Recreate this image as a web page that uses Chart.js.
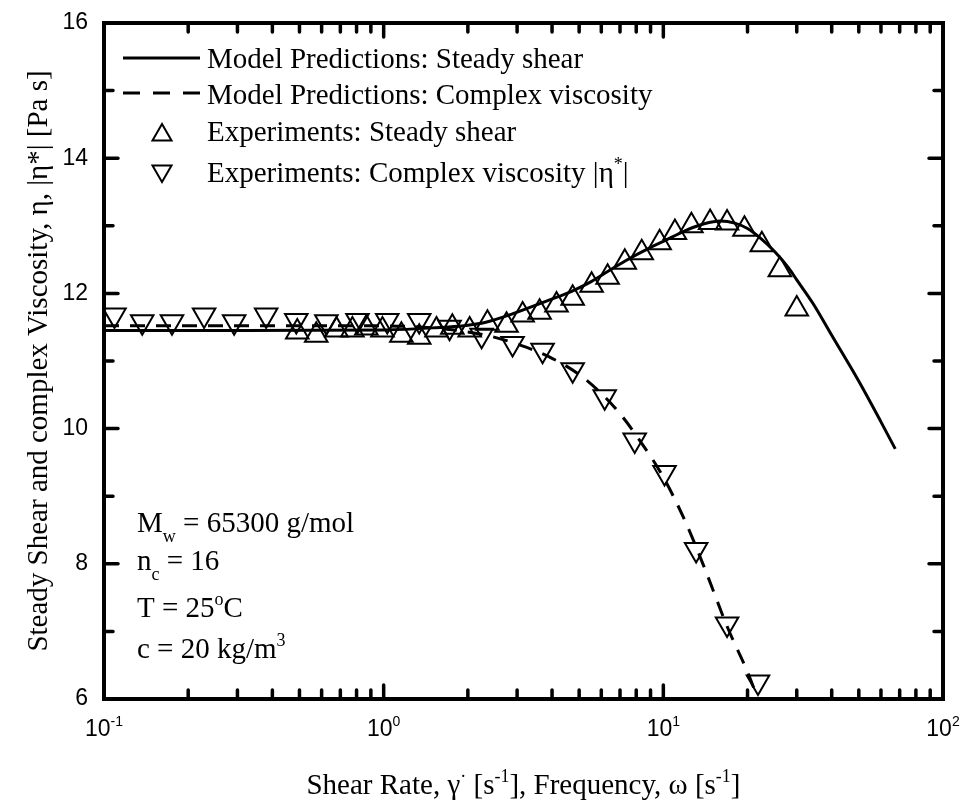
<!DOCTYPE html>
<html>
<head>
<meta charset="utf-8">
<title>Steady shear and complex viscosity</title>
<script src="https://cdn.jsdelivr.net/npm/chart.js@4.4.1/dist/chart.umd.min.js"></script>
<style>
  html, body { margin: 0; padding: 0; background: #fff; }
  #wrap { width: 965px; height: 805px; }
</style>
</head>
<body>
<div id="wrap"><canvas id="chart" width="965" height="805"></canvas></div>
<script>
// ---------------------------------------------------------
// data
// ---------------------------------------------------------
const modelShearX = [0.1, 0.3, 1, 1.5, 2, 2.3, 2.9, 3.9, 4.7, 5.5, 6.3, 7.3, 8.9, 10, 12, 14, 16, 18, 20, 22.5, 25, 28, 30, 34.3, 40, 50, 60, 67.5];
const modelShearY = [11.45, 11.45, 11.46, 11.49, 11.53, 11.57, 11.7, 11.9, 12.03, 12.17, 12.32, 12.48, 12.67, 12.77, 12.93, 13.03, 13.07, 13.04, 12.96, 12.8, 12.62, 12.38, 12.2, 11.85, 11.38, 10.7, 10.1, 9.7];

const modelComplexX = [0.1, 1, 1.5, 2, 2.5, 3, 4, 5, 6, 7, 8, 10, 12, 14, 17, 20, 22.5];
const modelComplexY = [11.52, 11.52, 11.49, 11.43, 11.35, 11.25, 11.04, 10.8, 10.52, 10.22, 9.9, 9.28, 8.62, 7.95, 7.05, 6.4, 5.85];

const expShearX = [0.491, 0.574, 0.678, 0.773, 0.867, 0.99, 1.157, 1.34, 1.545, 1.76, 2.03, 2.35, 2.75, 3.14, 3.61, 4.15, 4.74, 5.54, 6.32, 7.28, 8.37, 9.7, 11.0, 12.6, 14.7, 16.9, 19.5, 22.5, 26.1, 30.0];
const expShearY = [11.43, 11.38, 11.46, 11.46, 11.49, 11.46, 11.38, 11.35, 11.46, 11.5, 11.46, 11.56, 11.53, 11.68, 11.72, 11.83, 11.93, 12.12, 12.24, 12.46, 12.6, 12.75, 12.9, 13.0, 13.05, 13.04, 12.95, 12.72, 12.35, 11.77];

const expComplexX = [0.109, 0.137, 0.175, 0.228, 0.292, 0.38, 0.487, 0.624, 0.806, 1.03, 1.34, 1.72, 2.24, 2.89, 3.7, 4.74, 6.17, 7.9, 10.1, 13.1, 16.9, 21.8];
const expComplexY = [11.68, 11.58, 11.58, 11.68, 11.58, 11.68, 11.6, 11.58, 11.6, 11.6, 11.6, 11.5, 11.38, 11.26, 11.16, 10.87, 10.47, 9.83, 9.35, 8.21, 7.11, 6.25];

const xMajorTicks = [0.1, 1, 10, 100];
const xTickExponents = ["-1", "0", "1", "2"];
const xMinorTicks = [0.2, 0.3, 0.4, 0.5, 0.6, 0.7, 0.8, 0.9, 2, 3, 4, 5, 6, 7, 8, 9, 20, 30, 40, 50, 60, 70, 80, 90];
const yMajorTicks = [6, 8, 10, 12, 14, 16];
const yMinorTicks = [7, 9, 11, 13, 15];

const SERIF = '"Liberation Serif", "Times New Roman", serif';
const SANS = '"Liberation Sans", Arial, sans-serif';

const toPoints = (xs, ys) => xs.map((v, i) => ({ x: v, y: ys[i] }));

// text runs: [text, ''|'sub'|'sup']
function drawRuns(ctx, runs, x, y, size, family, align) {
  const small = Math.round(size * 0.62);
  const parts = runs.map((r) => {
    const kind = r[1] || "";
    const fs = kind ? small : size;
    ctx.font = fs + "px " + family;
    return { t: r[0], kind: kind, fs: fs, w: ctx.measureText(r[0]).width };
  });
  const total = parts.reduce((s, p) => s + p.w, 0);
  let cx = align === "center" ? x - total / 2 : x;
  ctx.textAlign = "left";
  ctx.textBaseline = "alphabetic";
  parts.forEach((p) => {
    ctx.font = p.fs + "px " + family;
    let dy = 0;
    if (p.kind === "sup") dy = -size * 0.42;
    if (p.kind === "sub") dy = size * 0.34;
    ctx.fillText(p.t, cx, y + dy);
    cx += p.w;
  });
}

function triangle(ctx, x, y, r, down) {
  const s = down ? -1 : 1;
  ctx.beginPath();
  ctx.moveTo(x, y - s * r);
  ctx.lineTo(x + r * Math.sin(2 * Math.PI / 3), y + s * r / 2);
  ctx.lineTo(x - r * Math.sin(2 * Math.PI / 3), y + s * r / 2);
  ctx.closePath();
  ctx.stroke();
}

// frame, inward ticks, labels, legend and notes
const framePlugin = {
  id: "frame",
  afterDraw(chart) {
    const { ctx, chartArea: a, scales } = chart;
    const sx = scales.x;
    const sy = scales.y;
    ctx.save();
    ctx.strokeStyle = "#000";
    ctx.fillStyle = "#000";

    // ticks
    ctx.lineCap = "round";
    ctx.lineWidth = 3.5;
    const xTick = (v, len) => {
      const px = sx.getPixelForValue(v);
      ctx.beginPath();
      ctx.moveTo(px, a.bottom); ctx.lineTo(px, a.bottom - len);
      ctx.moveTo(px, a.top); ctx.lineTo(px, a.top + len);
      ctx.stroke();
    };
    const yTick = (v, len) => {
      const py = sy.getPixelForValue(v);
      ctx.beginPath();
      ctx.moveTo(a.left, py); ctx.lineTo(a.left + len, py);
      ctx.moveTo(a.right, py); ctx.lineTo(a.right - len, py);
      ctx.stroke();
    };
    xMajorTicks.forEach((v) => xTick(v, 14));
    xMinorTicks.forEach((v) => xTick(v, 9));
    yMajorTicks.forEach((v) => yTick(v, 14));
    yMinorTicks.forEach((v) => yTick(v, 9));

    // frame
    ctx.lineCap = "square";
    ctx.lineWidth = 4;
    ctx.strokeRect(a.left, a.top, a.right - a.left, a.bottom - a.top);

    // tick labels
    ctx.font = "23px " + SANS;
    ctx.textAlign = "right";
    ctx.textBaseline = "middle";
    yMajorTicks.forEach((v) => {
      ctx.fillText(String(v), a.left - 16, sy.getPixelForValue(v));
    });
    xMajorTicks.forEach((v, i) => {
      const px = sx.getPixelForValue(v);
      drawRuns(ctx, [["10"], [xTickExponents[i], "sup"]], px, a.bottom + 37, 23, SANS, "center");
    });

    // axis titles
    drawRuns(ctx, [["Shear Rate, γ"], ["·", "sup"], [" [s"], ["-1", "sup"], ["], Frequency, ω [s"], ["-1", "sup"], ["]"]],
      (a.left + a.right) / 2, 794, 29, SERIF, "center");
    ctx.save();
    ctx.translate(47, (a.top + a.bottom) / 2);
    ctx.rotate(-Math.PI / 2);
    drawRuns(ctx, [["Steady Shear and complex Viscosity, η, |η*| [Pa s]"]], 0, 0, 29, SERIF, "center");
    ctx.restore();

    // legend
    ctx.lineWidth = 3;
    ctx.lineCap = "butt";
    ctx.beginPath(); ctx.moveTo(123, 58); ctx.lineTo(200, 58); ctx.stroke();
    ctx.setLineDash([17, 13]);
    ctx.beginPath(); ctx.moveTo(123, 93); ctx.lineTo(200, 93); ctx.stroke();
    ctx.setLineDash([]);
    ctx.lineWidth = 2;
    triangle(ctx, 162, 135, 11, false);
    triangle(ctx, 162, 171, 11, true);
    drawRuns(ctx, [["Model Predictions: Steady shear"]], 207, 68, 29, SERIF);
    drawRuns(ctx, [["Model Predictions: Complex viscosity"]], 207, 104, 29, SERIF);
    drawRuns(ctx, [["Experiments: Steady shear"]], 207, 141, 29, SERIF);
    drawRuns(ctx, [["Experiments: Complex viscosity |η"], ["*", "sup"], ["|"]], 207, 182, 29, SERIF);

    // sample notes
    drawRuns(ctx, [["M"], ["w", "sub"], [" = 65300 g/mol"]], 137, 532, 29, SERIF);
    drawRuns(ctx, [["n"], ["c", "sub"], [" = 16"]], 137, 570, 29, SERIF);
    drawRuns(ctx, [["T = 25"], ["o", "sup"], ["C"]], 137, 617, 29, SERIF);
    drawRuns(ctx, [["c = 20 kg/m"], ["3", "sup"]], 137, 658, 29, SERIF);

    ctx.restore();
  },
};

new Chart(document.getElementById("chart"), {
  type: "scatter",
  data: {
    datasets: [
      {
        label: "Model Predictions: Steady shear",
        data: toPoints(modelShearX, modelShearY),
        showLine: true,
        borderColor: "#000",
        borderWidth: 3,
        pointRadius: 0,
        cubicInterpolationMode: "monotone",
      },
      {
        label: "Model Predictions: Complex viscosity",
        data: toPoints(modelComplexX, modelComplexY),
        showLine: true,
        borderColor: "#000",
        borderWidth: 3,
        borderDash: [15, 11],
        pointRadius: 0,
        cubicInterpolationMode: "monotone",
      },
      {
        label: "Experiments: Steady shear",
        data: toPoints(expShearX, expShearY),
        pointStyle: "triangle",
        pointRadius: 13,
        borderColor: "#000",
        borderWidth: 2,
        backgroundColor: "rgba(0,0,0,0)",
      },
      {
        label: "Experiments: Complex viscosity",
        data: toPoints(expComplexX, expComplexY),
        pointStyle: "triangle",
        pointRotation: 180,
        pointRadius: 13,
        borderColor: "#000",
        borderWidth: 2,
        backgroundColor: "rgba(0,0,0,0)",
      },
    ],
  },
  options: {
    responsive: false,
    animation: false,
    events: [],
    layout: { padding: { left: 104, right: 22, top: 23, bottom: 106 } },
    plugins: { legend: { display: false }, tooltip: { enabled: false } },
    scales: {
      x: { type: "logarithmic", min: 0.1, max: 100, display: false },
      y: { type: "linear", min: 6, max: 16, display: false },
    },
  },
  plugins: [framePlugin],
});
</script>
</body>
</html>
